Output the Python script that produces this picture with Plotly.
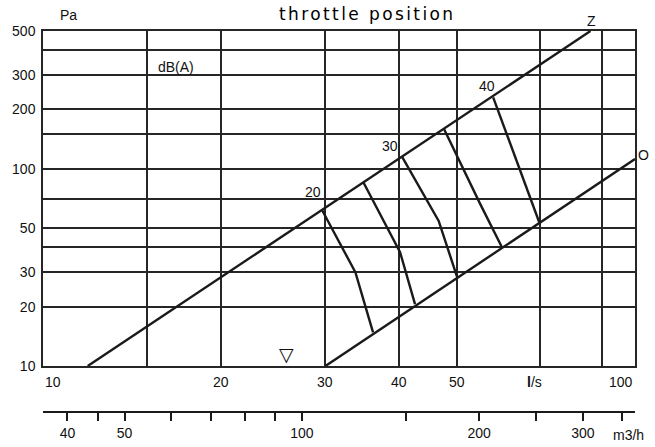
import math
import plotly.graph_objects as go

# ---------------- data ----------------
# closed ("Z") and open ("O") throttle characteristic lines, flow in l/s, pressure in Pa
z_flow = [11.9, 84.1]
z_pressure = [10, 500]
o_flow = [30, 100]
o_pressure = [10, 112]

# sound level (dB(A)) iso-lines between Z and O
db_levels = [20, 25, 30, 35, 40]
db_flow = [
    [29.6, 33.7, 36.1],
    [34.8, 40.1, 42.5],
    [40.4, 46.6, 50.0],
    [47.6, 54.7, 59.6],
    [57.6, 68.9],
]
db_pressure = [
    [61.8, 29.9, 14.8],
    [85.0, 37.8, 20.6],
    [115.2, 54.4, 28.6],
    [158.6, 66.8, 40.0],
    [230.5, 53.6],
]

# text labels inside the chart: (text, flow l/s, pressure Pa)
chart_labels = [
    ("20", 28.6, 76.5),
    ("30", 38.5, 130),
    ("40", 56.3, 263),
    ("dB(A)", 16.8, 330),
    ("\u25bd", 25.8, 11.5),
]

# axes
x_grid = [10, 15, 20, 30, 40, 50, 69, 88, 100]
x_label_vals = [10, 20, 30, 40, 50, 67.7, 100]
x_label_text = ["10", "20", "30", "40", "50", "<b>l</b>/s", "100"]
y_grid = [10, 20, 30, 40, 50, 70, 100, 150, 200, 300, 400, 500]
y_label_text = ["10", "20", "30", "", "50", "", "100", "", "200", "300", "", "500"]
m3h_ticks = [40, 45, 50, 60, 70, 80, 90, 100, 150, 200, 250, 300, 350]
m3h_text = ["40", "", "50", "", "", "", "", "100", "", "200", "", "300", ""]
m3h_range = [36.35, 367.8]   # m3/h scale as printed (approx. l/s x 3.6)

# ---------------- styling ----------------
FONT = "Liberation Sans, Arial, sans-serif"
LINE = "#1a1a1a"
GRID = "#262626"
FS = 14

W, H = 655, 447
M_L, M_R, M_T, M_B = 43, 20, 31, 35
plot_bottom_px = 366
paper_h = H - M_T - M_B
y_dom0 = (H - M_B - plot_bottom_px) / paper_h

fig = go.Figure()

fig.add_trace(go.Scatter(x=z_flow, y=z_pressure, mode="lines",
                         line=dict(color=LINE, width=2.4), hoverinfo="skip"))
fig.add_trace(go.Scatter(x=o_flow, y=o_pressure, mode="lines",
                         line=dict(color=LINE, width=2.4), hoverinfo="skip"))
for lvl, fx, py in zip(db_levels, db_flow, db_pressure):
    fig.add_trace(go.Scatter(x=fx, y=py, mode="lines", name=f"{lvl} dB(A)",
                             line=dict(color=LINE, width=2.4), hoverinfo="skip"))

# dummy trace so the m3/h axis is drawn
fig.add_trace(go.Scatter(x=[m3h_ticks[0], m3h_ticks[-1]], y=[None, None],
                         xaxis="x2", yaxis="y", mode="lines", hoverinfo="skip"))

annotations = []
for txt, q, p in chart_labels:
    size = FS
    font = FONT
    if txt == "\u25bd":
        size = 19
        font = "DejaVu Sans"
    annotations.append(dict(x=math.log10(q), y=math.log10(p), xref="x", yref="y",
                            text=txt, showarrow=False,
                            font=dict(family=font, size=size, color="#111")))

# line end labels Z and O, anchored at the line ends
annotations.append(dict(x=math.log10(z_flow[-1]), y=math.log10(z_pressure[-1]), xref="x", yref="y",
                        text="Z", showarrow=False, xanchor="center", yanchor="middle",
                        xshift=1, yshift=10, font=dict(family=FONT, size=FS, color="#111")))
annotations.append(dict(x=math.log10(o_flow[-1]), y=math.log10(o_pressure[-1]), xref="x", yref="y",
                        text="O", showarrow=False, xanchor="left", yanchor="middle",
                        xshift=1, yshift=4, font=dict(family=FONT, size=FS, color="#111")))

for v, t in zip(x_label_vals, x_label_text):
    anchor = "center"
    if v == x_grid[0]:
        anchor = "left"
    elif v == x_grid[-1]:
        anchor = "right"
    annotations.append(dict(x=math.log10(v), y=y_dom0, xref="x", yref="paper",
                            text=t, showarrow=False, xanchor=anchor, yanchor="middle",
                            yshift=-16, font=dict(family=FONT, size=FS, color="#111")))

annotations.append(dict(x=math.log10(m3h_ticks[-1]), y=0, xref="x2", yref="paper",
                        text="m3/h", showarrow=False, xanchor="center", yanchor="middle",
                        xshift=6, yshift=-23, font=dict(family=FONT, size=FS, color="#111")))
annotations.append(dict(x=(43 + 14.5 - M_L) / (W - M_L - M_R), y=1, xref="paper", yref="paper",
                        text="Pa", showarrow=False, yanchor="middle", yshift=16,
                        font=dict(family=FONT, size=FS, color="#111")))
annotations.append(dict(x=(367 - M_L) / (W - M_L - M_R), y=1, xref="paper", yref="paper",
                        text='<span style="letter-spacing:2.4px">throttle position</span>',
                        showarrow=False, yanchor="middle", yshift=17,
                        font=dict(family="DejaVu Sans", size=17, color="#000")))

fig.update_layout(
    template="none",
    width=W, height=H,
    margin=dict(l=M_L, r=M_R, t=M_T, b=M_B, pad=0, autoexpand=False),
    paper_bgcolor="white", plot_bgcolor="white",
    showlegend=False,
    xaxis=dict(type="log", range=[math.log10(x_grid[0]), math.log10(x_grid[-1])],
               tickvals=x_grid, showticklabels=False, ticks="",
               showgrid=True, gridcolor=GRID, gridwidth=1.5,
               showline=True, linecolor=GRID, linewidth=1.5, mirror=True,
               zeroline=False, anchor="y", automargin=False),
    xaxis2=dict(type="log", overlaying="x", anchor="free", position=0, side="bottom",
                range=[math.log10(m3h_range[0]), math.log10(m3h_range[1])],
                tickvals=m3h_ticks, ticktext=m3h_text, ticks="outside", ticklen=8,
                tickwidth=2, tickcolor=LINE, showgrid=False, zeroline=False,
                showline=True, linecolor=LINE, linewidth=2, automargin=False,
                tickfont=dict(family=FONT, size=FS, color="#111")),
    yaxis=dict(type="log", range=[math.log10(y_grid[0]), math.log10(y_grid[-1])],
               domain=[y_dom0, 1], tickvals=y_grid, ticktext=y_label_text, ticks="",
               showgrid=True, gridcolor=GRID, gridwidth=1.5,
               showline=True, linecolor=GRID, linewidth=1.5, mirror=True,
               zeroline=False, ticklabelstandoff=3, automargin=False,
               tickfont=dict(family=FONT, size=FS, color="#111")),
    annotations=annotations,
)

fig.write_html("out.html", config={"displayModeBar": False},
               post_script="document.body.style.margin='0';document.body.style.overflow='hidden';")
